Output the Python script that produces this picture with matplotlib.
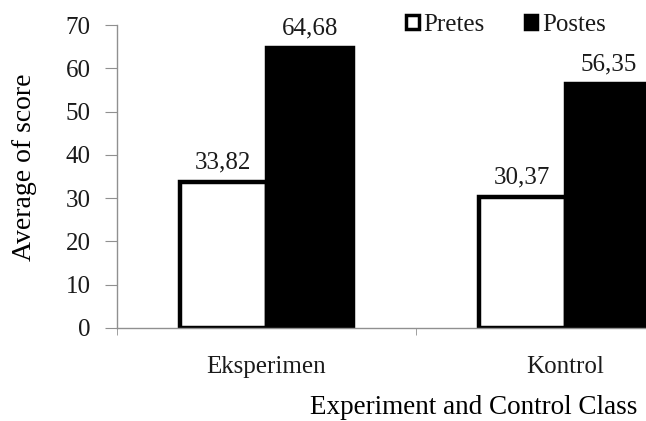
import numpy as np
import matplotlib
matplotlib.use("Agg")
import matplotlib.pyplot as plt
from matplotlib.patches import Patch

plt.rcParams['font.family'] = ['Liberation Serif', 'DejaVu Serif']
plt.rcParams['text.color'] = '#1a1a1a'
plt.rcParams['xtick.labelcolor'] = '#1a1a1a'
plt.rcParams['ytick.labelcolor'] = '#1a1a1a'

classes = ['Eksperimen', 'Kontrol']
pretes = [33.82, 30.37]
postes = [64.68, 56.35]
series_names = ['Pretes', 'Postes']
yticks = [0, 10, 20, 30, 40, 50, 60, 70]

fig = plt.figure(figsize=(6.46, 4.21), dpi=100)
ax = fig.add_axes([117 / 646, 93 / 421, 598 / 646, 303 / 421])

index = np.arange(len(classes))
bar_width = 0.29
rect1 = ax.bar(index - bar_width / 2, pretes, bar_width, color='white', edgecolor='black', linewidth=3.2)
rect2 = ax.bar(index + bar_width / 2, postes, bar_width, color='black', edgecolor='black', linewidth=3.2)

for rects, vals in ((rect1, pretes), (rect2, postes)):
	for r, v in zip(rects, vals):
		ax.annotate(('%.2f' % v).replace('.', ','), (r.get_x() + r.get_width() / 2, v),
					xytext=(0, 6), textcoords='offset points', ha='center', va='bottom', fontsize=18)

ax.set_xlim(-0.5, 1.5)
ax.set_ylim(0, 70)
ax.set_yticks(yticks)
ax.set_xticks(index)
ax.set_xticklabels(classes)
ax.set_xticks([-0.5, 0.5, 1.5], minor=True)
ax.tick_params(axis='x', which='major', length=0, pad=20, labelsize=18)
ax.tick_params(axis='x', which='minor', length=5, color='#909090', direction='out')
ax.tick_params(axis='y', length=9, color='#909090', pad=10, labelsize=18)

for s in ['top', 'right']:
	ax.spines[s].set_visible(False)
for s in ['left', 'bottom']:
	ax.spines[s].set_color('#909090')
	ax.spines[s].set_linewidth(1.0)

ax.set_ylabel('Average of score', fontsize=20, va='center')
ax.yaxis.set_label_coords(-0.154, 0.53)
ax.set_xlabel('Experiment and Control Class', fontsize=19.5, ha='left', va='center')
ax.xaxis.set_label_coords(0.322, -0.264)

handles = [Patch(facecolor='white', edgecolor='black', linewidth=2.5),
		   Patch(facecolor='black', edgecolor='black', linewidth=2.5)]
fig.legend(handles, series_names, loc='center left', bbox_to_anchor=(406 / 646, 1 - 25 / 421), ncol=2,
		   frameon=False, fontsize=18, handlelength=0.5, handleheight=0.5, handletextpad=0.2,
		   columnspacing=1.6, borderaxespad=0, borderpad=0)

fig.savefig('out.png', dpi=100)
